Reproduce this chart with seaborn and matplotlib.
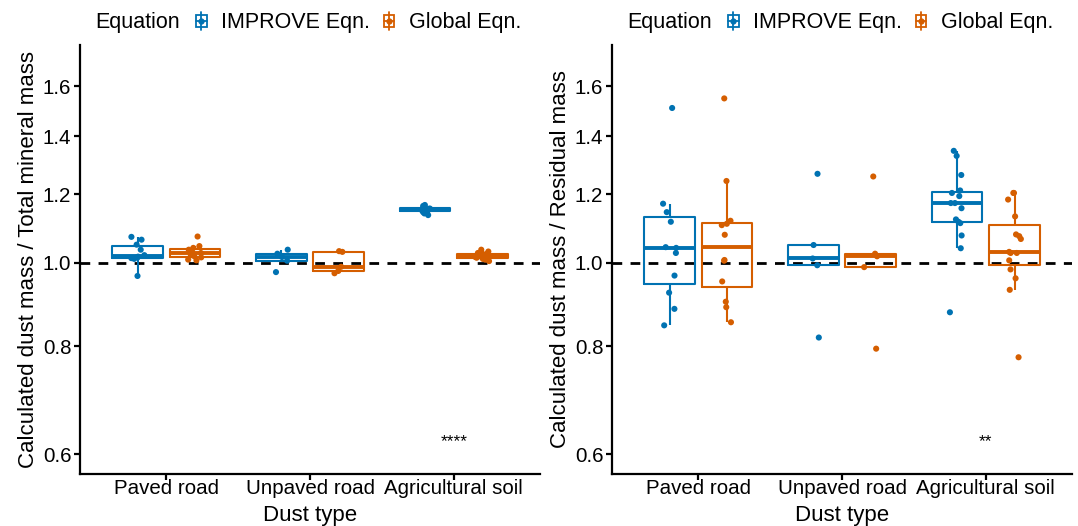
import numpy as np
import pandas as pd
import matplotlib
matplotlib.use("Agg")
import matplotlib.pyplot as plt
import seaborn as sns
from matplotlib.legend_handler import HandlerBase
from matplotlib.patches import Rectangle
from matplotlib.lines import Line2D
from matplotlib.ticker import FixedLocator, FixedFormatter, NullLocator

# ---------------- data ----------------
dust_types = ["Paved road", "Unpaved road", "Agricultural soil"]
equations = ["IMPROVE Eqn.", "Global Eqn."]
colors = ["#0072B2", "#D55E00"]

# Left panel: calculated dust mass / total mineral mass
paved_imp_L = [1.071, 1.063, 1.049, 1.035, 1.020, 1.016, 1.014, 1.012, 1.010, 0.965]
paved_glo_L = [1.072, 1.045, 1.040, 1.035, 1.030, 1.026, 1.020, 1.017, 1.014, 1.008, 1.006]
unpaved_imp_L = [1.035, 1.024, 1.015, 1.005, 0.975]
unpaved_glo_L = [1.031, 1.029, 0.989, 0.978, 0.972]
agri_imp_L = [1.166, 1.163, 1.160, 1.157, 1.155, 1.154, 1.152, 1.151, 1.150, 1.149,
              1.147, 1.146, 1.144, 1.140, 1.135]
agri_glo_L = [1.035, 1.030, 1.026, 1.023, 1.021, 1.020, 1.018, 1.017, 1.016, 1.015,
              1.013, 1.012, 1.010, 1.008, 1.004]

# Right panel: calculated dust mass / residual mass
paved_imp_R = [1.510, 1.170, 1.144, 1.115, 1.042, 1.040, 1.026, 0.966, 0.923, 0.884, 0.846]
paved_glo_R = [1.549, 1.243, 1.118, 1.109, 1.105, 1.077, 1.007, 1.005, 0.951, 0.901, 0.888, 0.853]
unpaved_imp_R = [1.267, 1.048, 1.011, 0.993, 0.819]
unpaved_glo_R = [1.258, 1.024, 1.017, 0.988, 0.795]
agri_imp_R = [1.347, 1.329, 1.263, 1.212, 1.204, 1.194, 1.172, 1.172, 1.156, 1.122,
              1.115, 1.111, 1.075, 1.039, 0.876]
agri_glo_R = [1.204, 1.204, 1.183, 1.131, 1.078, 1.073, 1.065, 1.029, 1.026, 1.026,
              1.006, 0.982, 0.959, 0.930, 0.777]

ytick_vals = [0.6, 0.8, 1.0, 1.2, 1.4, 1.6]
ytick_labels = ["0.6", "0.8", "1.0", "1.2", "1.4", "1.6"]
signif_L = "****"
signif_R = "**"
ylabel_L = "Calculated dust mass / Total mineral mass"
ylabel_R = "Calculated dust mass / Residual mass"


def make_df(groups):
    rows = []
    for (dt, eq), vals in groups.items():
        for v in vals:
            rows.append({"Dust type": dt, "Equation": eq, "ratio": v})
    return pd.DataFrame(rows)


df_L = make_df({
    ("Paved road", "IMPROVE Eqn."): paved_imp_L,
    ("Paved road", "Global Eqn."): paved_glo_L,
    ("Unpaved road", "IMPROVE Eqn."): unpaved_imp_L,
    ("Unpaved road", "Global Eqn."): unpaved_glo_L,
    ("Agricultural soil", "IMPROVE Eqn."): agri_imp_L,
    ("Agricultural soil", "Global Eqn."): agri_glo_L,
})
df_R = make_df({
    ("Paved road", "IMPROVE Eqn."): paved_imp_R,
    ("Paved road", "Global Eqn."): paved_glo_R,
    ("Unpaved road", "IMPROVE Eqn."): unpaved_imp_R,
    ("Unpaved road", "Global Eqn."): unpaved_glo_R,
    ("Agricultural soil", "IMPROVE Eqn."): agri_imp_R,
    ("Agricultural soil", "Global Eqn."): agri_glo_R,
})

# ---------------- style ----------------
sns.set_theme(style="ticks")
plt.rcParams["font.family"] = ["Liberation Sans", "DejaVu Sans"]
plt.rcParams["axes.linewidth"] = 1.6
plt.rcParams["xtick.major.width"] = 1.6
plt.rcParams["ytick.major.width"] = 1.6
plt.rcParams["xtick.major.size"] = 4.3
plt.rcParams["ytick.major.size"] = 4.3
plt.rcParams["axes.edgecolor"] = "black"
plt.rcParams["text.color"] = "black"
plt.rcParams["axes.labelcolor"] = "black"
plt.rcParams["legend.labelcolor"] = "black"

palette = dict(zip(equations, colors))


class BoxHandler(HandlerBase):
    def create_artists(self, legend, orig_handle, xdescent, ydescent, width, height,
                       fontsize, trans):
        c = orig_handle.get_color()
        cx = -xdescent + width / 2
        cy = -ydescent + height / 2
        bw = width * 0.8
        bh = height * 0.62
        rect = Rectangle((cx - bw / 2, cy - bh / 2), bw, bh, fill=False, ec=c, lw=1.3,
                         transform=trans)
        vl = Line2D([cx, cx], [cy - height * 0.48, cy + height * 0.48], color=c, lw=1.3,
                    transform=trans)
        hl = Line2D([cx - bw / 2, cx + bw / 2], [cy, cy], color=c, lw=1.3, transform=trans)
        dot = Line2D([cx], [cy], marker="o", ms=3.5, color=c, transform=trans)
        return [rect, vl, hl, dot]


W, H = 1078, 526
fig = plt.figure(figsize=(W / 100, H / 100), dpi=100)
ax_bottom_px, ax_top_px = 473.5, 45
ax_L = fig.add_axes([80 / W, 1 - ax_bottom_px / H, 460 / W, (ax_bottom_px - ax_top_px) / H])
ax_R = fig.add_axes([612 / W, 1 - ax_bottom_px / H, 460 / W, (ax_bottom_px - ax_top_px) / H])

np.random.seed(7)
for ax, df, ylab, sig in [(ax_L, df_L, ylabel_L, signif_L), (ax_R, df_R, ylabel_R, signif_R)]:
    sns.boxplot(data=df, x="Dust type", y="ratio", hue="Equation", order=dust_types,
                hue_order=equations, palette=palette, fill=False, width=0.8, gap=0.12,
                showfliers=False, showcaps=False, linewidth=1.5, log_scale=(False, True),
                medianprops=dict(linewidth=2.8), legend=False, ax=ax)
    sns.stripplot(data=df, x="Dust type", y="ratio", hue="Equation", order=dust_types,
                  hue_order=equations, palette=palette, dodge=True, jitter=0.1, size=4.4,
                  linewidth=0, legend=False, ax=ax)
    ax.axhline(1.0, color="black", lw=2, ls=(0, (3.5, 3)), zorder=0.5)
    ax.set_yscale("log")
    ax.set_ylim(0.570, 1.786)
    ax.set_xlim(-0.6, 2.6)
    ax.yaxis.set_major_locator(FixedLocator(ytick_vals))
    ax.yaxis.set_major_formatter(FixedFormatter(ytick_labels))
    ax.yaxis.set_minor_locator(NullLocator())
    ax.tick_params(axis="y", labelsize=14.8, colors="black", pad=2)
    ax.tick_params(axis="x", labelsize=14.8, colors="black", pad=0)
    ax.set_ylabel(ylab, fontsize=16, color="black", labelpad=3)
    ax.set_xlabel("Dust type", fontsize=16, color="black", labelpad=4.5)
    sns.despine(ax=ax)
    ax.text(2, 0.62, sig, ha="center", va="center", fontsize=12.5, color="black")

    # legend on top
    handles = [Line2D([], [], color=c) for c in colors]
    ax.text(0.033, 1.053, "Equation", transform=ax.transAxes, ha="left", va="center",
            fontsize=15.5, color="black")
    ax.legend(handles, equations, handler_map={Line2D: BoxHandler()}, loc="center left",
              bbox_to_anchor=(0.25, 1.053), ncol=2, frameon=False, fontsize=15.5,
              handlelength=0.6, handleheight=1.0, handletextpad=0.6, columnspacing=0.6,
              borderpad=0, borderaxespad=0)

fig.savefig("out.png", dpi=100)
